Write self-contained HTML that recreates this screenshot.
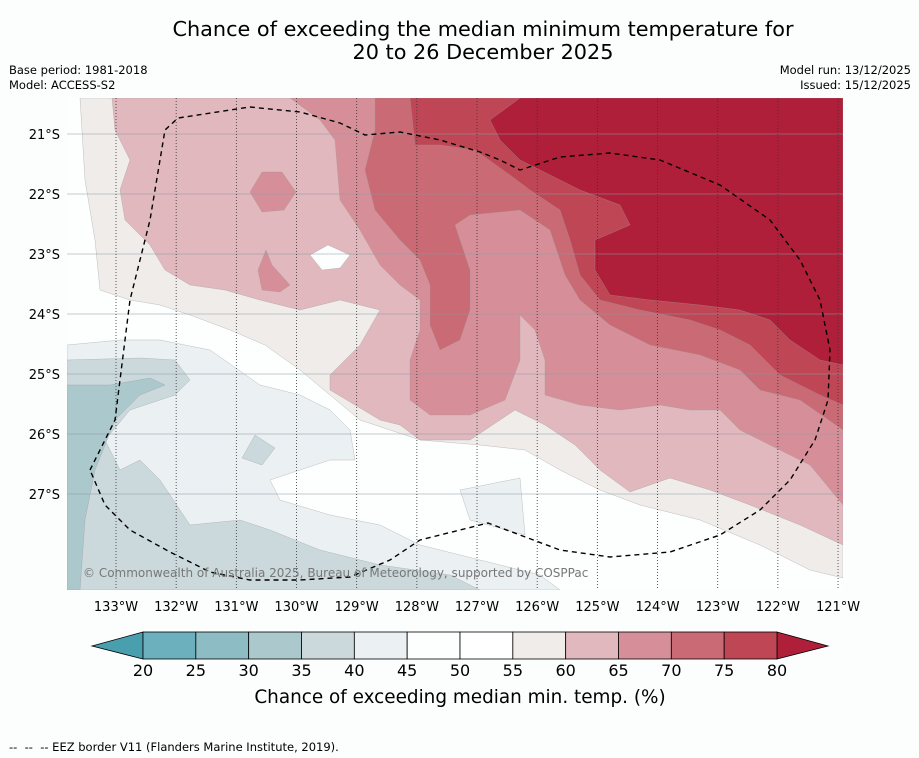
<!DOCTYPE html>
<html><head><meta charset="utf-8"><style>
body{margin:0;background:#fcfdfd;font-family:"DejaVu Sans","Liberation Sans",sans-serif;}
#wrap{position:relative;width:919px;height:758px;overflow:hidden;background:#fcfdfd}
.t{position:absolute;white-space:nowrap;color:#000}
text{font-family:"DejaVu Sans","Liberation Sans",sans-serif}
</style></head><body>
<div id="wrap">
<div class="t" style="left:0;width:966px;top:18px;text-align:center;font-size:20.8px;line-height:23px">Chance of exceeding the median minimum temperature for<br>20 to 26 December 2025</div>
<div class="t" style="left:9px;top:63px;font-size:11.5px;line-height:15px">Base period: 1981-2018<br>Model: ACCESS-S2</div>
<div class="t" style="right:8px;top:63px;font-size:11.5px;line-height:15px;text-align:right">Model run: 13/12/2025<br>Issued: 15/12/2025</div>
<div class="t" style="left:9px;top:740px;font-size:11.5px">-- &nbsp;-- &nbsp;-- EEZ border V11 (Flanders Marine Institute, 2019).</div>
<svg id="svg" width="919" height="758" style="position:absolute;left:0;top:0"></svg>
</div>
<script>
const levels=[20,25,30,35,40,45,50,55,60,65,70,75,80];
const colors=["#6cb0bd","#8dbcc4","#abc8cc","#cbd9dc","#ebf0f2","#fdfefe","#ffffff","#efecea","#e1b8bd","#d68f98","#c96a74","#bf4755"];
const lonTicks=[133,132,131,130,129,128,127,126,125,124,123,122,121];
const latTicks=[21,22,23,24,25,26,27];
const contours=[
 ["ge55","#efecea",[[80,98],[843,98],[843,578],[810,570],[760,545],[700,520],[640,505],[600,490],[560,470],[525,450],[480,445],[420,440],[360,420],[330,395],[300,370],[265,345],[230,330],[190,315],[160,305],[130,300],[100,290],[95,240],[85,180],[80,98]]],
 ["ge60","#e1b8bd",[[112,98],[843,98],[843,545],[800,525],[750,505],[710,490],[670,478],[630,492],[600,470],[575,445],[545,425],[515,410],[470,440],[420,440],[400,425],[380,420],[330,390],[330,375],[360,345],[380,310],[340,300],[300,310],[260,300],[225,290],[190,285],[165,270],[150,245],[125,220],[120,190],[130,160],[115,130]]],
 ["ge65","#d68f98",[[290,98],[843,98],[843,505],[810,465],[780,450],[740,430],[720,410],[690,410],[660,405],[620,410],[580,405],[545,395],[545,360],[535,330],[520,315],[520,360],[505,400],[470,415],[430,415],[410,400],[410,360],[420,330],[420,300],[400,285],[380,265],[360,230],[340,200],[335,140],[320,120]]],
 ["blob1","#d68f98",[[262,172],[282,172],[296,192],[284,210],[262,212],[250,192]]],
 ["blob2","#d68f98",[[266,250],[272,265],[290,285],[280,292],[262,290],[258,270]]],
 ["ge70","#c96a74",[[375,98],[843,98],[843,430],[800,400],[760,390],[740,370],[700,355],[650,345],[610,325],[580,300],[565,275],[550,230],[520,210],[470,215],[455,225],[470,270],[470,310],[460,340],[440,350],[430,325],[430,285],[420,260],[400,240],[375,210],[365,170],[375,130]]],
 ["ge75","#bf4755",[[410,98],[843,98],[843,405],[820,395],[780,375],[750,345],[720,330],[690,320],[640,310],[600,300],[580,275],[570,240],[560,210],[530,190],[510,175],[475,150],[440,145],[415,145]]],
 ["ge80","#b01f3a",[[520,98],[843,98],[843,365],[820,360],[790,340],[770,320],[740,310],[700,305],[650,300],[610,295],[595,270],[595,240],[630,225],[620,205],[580,190],[550,175],[520,160],[500,140],[490,120]]],
 ["hole","#fdfefe",[[310,255],[328,245],[350,255],[340,268],[322,270]]],
 ["le45","#ebf0f2",[[67,345],[67,590],[560,590],[540,575],[480,560],[420,545],[380,525],[330,515],[280,500],[270,480],[300,470],[330,460],[355,460],[350,430],[330,410],[300,395],[260,385],[210,350],[160,340],[120,340]]],
 ["le45b","#ebf0f2",[[460,490],[520,478],[525,535],[470,520]]],
 ["le40","#cbd9dc",[[67,360],[67,590],[480,590],[450,575],[380,565],[320,550],[270,530],[240,520],[190,525],[160,480],[140,460],[120,470],[105,440],[130,410],[175,395],[190,380],[175,360],[140,358]]],
 ["le40b","#cbd9dc",[[255,435],[275,448],[262,465],[242,458]]],
 ["le35","#abc8cc",[[67,385],[67,590],[80,590],[85,520],[95,470],[115,420],[140,395],[165,385],[150,378],[110,385]]]
];
const eez=[[90,470],[115,420],[130,300],[150,220],[165,130],[178,118],[250,107],[300,112],[340,123],[365,135],[400,132],[440,140],[480,152],[500,160],[520,170],[560,157],[610,153],[660,160],[720,185],[770,220],[800,260],[820,300],[830,350],[828,400],[815,440],[790,480],[760,510],[720,535],[670,552],[610,557],[560,550],[520,535],[488,523],[460,530],[420,540],[390,560],[350,577],[300,580],[250,580],[210,572],[170,552],[130,530],[105,505],[90,470]];
const X0=67,X1=843,Y0=98,Y1=590;
const xLon=l=>116+(133-l)*60.17;
const yLat=l=>134+(l-21)*60;
const NS="http://www.w3.org/2000/svg";
const svg=document.getElementById('svg');
function mk(t,a,p){const e=document.createElementNS(NS,t);for(const k in a)e.setAttribute(k,a[k]);(p||svg).appendChild(e);return e;}
const clip=mk('clipPath',{id:'mc'});mk('rect',{x:X0,y:Y0,width:X1-X0,height:Y1-Y0},clip);
const g=mk('g',{'clip-path':'url(#mc)'});
const bg=mk('rect',{x:X0,y:Y0,width:X1-X0,height:Y1-Y0,fill:'#fdfefe'},g);

contours.forEach(c=>{const p=mk('polygon',{points:c[2].map(q=>q.join(',')).join(' '),fill:c[1],stroke:'#999',"stroke-width":0.3},g);

});
latTicks.forEach(l=>{const y=yLat(l);const ln=mk('line',{x1:X0,x2:X1,y1:y,y2:y,stroke:'#8a9aa6','stroke-width':0.5},g);

const t=mk('text',{x:60,y:y+5,'text-anchor':'end','font-size':13,fill:'#000'});t.textContent=l+'°S';
});
lonTicks.forEach(l=>{const x=xLon(l);const ln=mk('line',{x1:x,x2:x,y1:Y0,y2:Y1,stroke:'#333','stroke-width':0.8,'stroke-dasharray':'1,2'},g);

const t=mk('text',{x:x,y:611,'text-anchor':'middle','font-size':13,fill:'#000'});t.textContent=l+'°W';
});
const ez=mk('polyline',{points:eez.map(q=>q.join(',')).join(' '),fill:'none',stroke:'#000','stroke-width':1.4,'stroke-dasharray':'5,4'},g);

const cp=mk('text',{x:83,y:577,'font-size':12,fill:'#777'});cp.textContent='© Commonwealth of Australia 2025, Bureau of Meteorology, supported by COSPPac';

const cbX=143,cbW=(777-143)/12,cbY=632,cbH=27;
const lt=mk('polygon',{points:`92,646 ${cbX},${cbY} ${cbX},${cbY+cbH}`,fill:'#4a9fae',stroke:'#000','stroke-width':0.8});

const rt=mk('polygon',{points:`828,646 777,${cbY} 777,${cbY+cbH}`,fill:'#b01f3a',stroke:'#000','stroke-width':0.8});

colors.forEach((c,i)=>{const r=mk('rect',{x:cbX+i*cbW,y:cbY,width:cbW,height:cbH,fill:c,stroke:'#000','stroke-width':0.8});
});
levels.forEach((v,i)=>{const t=mk('text',{x:cbX+i*cbW,y:676,'text-anchor':'middle','font-size':16,fill:'#000'});t.textContent=v;
});
const ct=mk('text',{x:460,y:703,'text-anchor':'middle','font-size':18.4,fill:'#000'});ct.textContent='Chance of exceeding median min. temp. (%)';

</script>
</body></html>
